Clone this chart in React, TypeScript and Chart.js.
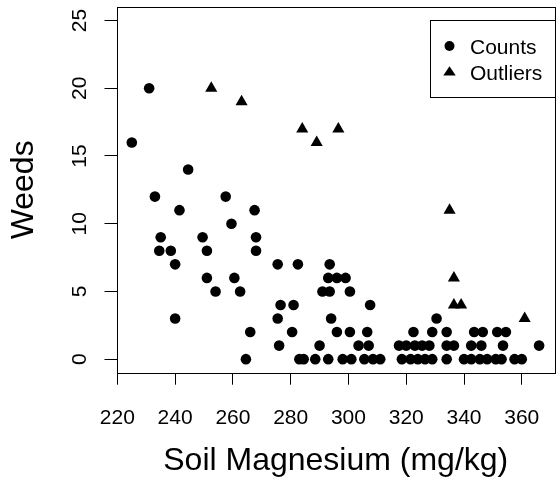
import React, { useEffect, useRef } from "react";
import { Chart, registerables } from "chart.js";

Chart.register(...registerables);

// Soil magnesium (mg/kg) and weed count for each regular plot
const countMg = [
  231,
  225,
  244.5,
  233, 257.5,
  241.5, 267.5,
  259.5,
  235, 249.5, 268,
  234.5, 238.5, 251, 268,
  240, 275.5, 282.5, 293.5,
  251, 260.5, 293, 296, 299,
  254, 262.5, 291, 293.5, 300.5,
  276.5, 281, 307.5,
  240, 275.5, 294, 330.5,
  266, 280.5, 296, 300.5, 306.5, 322.5, 329, 334, 343.5, 346.5, 351.5, 354.5,
  276, 290, 303.5, 307, 317.5, 320, 323, 325.5, 328, 334, 336.5, 342.5, 346, 353.5, 366,
  264.5, 283, 284.5, 288.5, 293, 298, 301, 305.5, 308.5, 311, 318.5, 321.5, 324, 326.5, 329, 334,
  340, 342.5, 345.5, 348, 351, 353, 357.5, 360,
];
const countWeeds = [
  20,
  16,
  14,
  12, 12,
  11, 11,
  10,
  9, 9, 9,
  8, 8, 8, 8,
  7, 7, 7, 7,
  6, 6, 6, 6, 6,
  5, 5, 5, 5, 5,
  4, 4, 4,
  3, 3, 3, 3,
  2, 2, 2, 2, 2, 2, 2, 2, 2, 2, 2, 2,
  1, 1, 1, 1, 1, 1, 1, 1, 1, 1, 1, 1, 1, 1, 1,
  0, 0, 0, 0, 0, 0, 0, 0, 0, 0, 0, 0, 0, 0, 0, 0,
  0, 0, 0, 0, 0, 0, 0, 0,
];

// Plots flagged as outliers
const outlierMg = [252.5, 263, 284, 289, 296.5, 335, 336.5, 336.5, 339, 361];
const outlierWeeds = [20, 19, 17, 16, 17, 11, 6, 4, 4, 3];

const xTicks = [220, 240, 260, 280, 300, 320, 340, 360];
const yTicks = [0, 5, 10, 15, 20, 25];
const xTitle = "Soil Magnesium (mg/kg)";
const yTitle = "Weeds";
const legendLabels = ["Counts", "Outliers"];

const FONT = '"Liberation Sans", Arial, Helvetica, sans-serif';

const toPoints = (xs: number[], ys: number[]) => xs.map((x, i) => ({ x, y: ys[i] }));

const framePlugin = {
  id: "baseFrame",
  afterDraw(chart: any) {
    const ctx = chart.ctx as CanvasRenderingContext2D;
    const area = chart.chartArea;
    const xs = chart.scales.x;
    const ys = chart.scales.y;
    ctx.save();

    // plot box
    ctx.strokeStyle = "#000";
    ctx.lineWidth = 1;
    const l = Math.round(area.left) + 0.5;
    const t = Math.round(area.top) + 0.5;
    const r = Math.round(area.right) + 0.5;
    const b = Math.round(area.bottom) + 0.5;
    ctx.strokeRect(l, t, r - l, b - t);

    ctx.fillStyle = "#000";

    // x tick labels
    ctx.font = `21px ${FONT}`;
    ctx.textAlign = "center";
    ctx.textBaseline = "alphabetic";
    xs.ticks.forEach((tk: any) => {
      ctx.fillText(String(tk.value), xs.getPixelForValue(tk.value), 424);
    });

    // y tick labels, rotated
    ys.ticks.forEach((tk: any) => {
      ctx.save();
      ctx.translate(85.5, ys.getPixelForValue(tk.value));
      ctx.rotate(-Math.PI / 2);
      ctx.fillText(String(tk.value), 0, 0);
      ctx.restore();
    });

    // axis titles
    ctx.font = `32px ${FONT}`;
    ctx.fillText(xTitle, (area.left + area.right) / 2, 470);
    ctx.save();
    ctx.translate(33, (area.top + area.bottom) / 2);
    ctx.rotate(-Math.PI / 2);
    ctx.fillText(yTitle, 0, 0);
    ctx.restore();

    // legend
    ctx.fillStyle = "#fff";
    ctx.fillRect(430.5, 20.5, 125, 77);
    ctx.strokeRect(430.5, 20.5, 125, 77);
    ctx.fillStyle = "#000";
    ctx.beginPath();
    ctx.arc(449.5, 46, 5, 0, Math.PI * 2);
    ctx.fill();
    ctx.beginPath();
    ctx.moveTo(449.5, 66.3);
    ctx.lineTo(455.7, 75.5);
    ctx.lineTo(443.3, 75.5);
    ctx.closePath();
    ctx.fill();
    ctx.font = `21px ${FONT}`;
    ctx.textAlign = "left";
    ctx.fillText(legendLabels[0], 470, 54);
    ctx.fillText(legendLabels[1], 470, 79.5);

    ctx.restore();
  },
};

export default function App() {
  const ref = useRef<HTMLCanvasElement | null>(null);

  useEffect(() => {
    if (!ref.current) return;
    const chart = new Chart(ref.current, {
      type: "scatter",
      data: {
        datasets: [
          {
            label: legendLabels[0],
            data: toPoints(countMg, countWeeds),
            pointStyle: "circle",
            pointRadius: 5.3,
            pointBorderWidth: 0,
            backgroundColor: "#000",
            borderColor: "#000",
          },
          {
            label: legendLabels[1],
            data: toPoints(outlierMg, outlierWeeds),
            pointStyle: "triangle",
            pointRadius: 7,
            pointBorderWidth: 0,
            backgroundColor: "#000",
            borderColor: "#000",
          },
        ],
      },
      options: {
        animation: false,
        responsive: false,
        devicePixelRatio: 1,
        layout: { padding: { left: 0, top: 6, right: 1.6, bottom: 0 } },
        plugins: {
          legend: { display: false },
          tooltip: { enabled: false },
        },
        scales: {
          x: {
            type: "linear",
            min: 219.7,
            max: 371.5,
            afterBuildTicks: (s: any) => {
              s.ticks = xTicks.map((v) => ({ value: v }));
            },
            afterFit: (s: any) => {
              s.height = 105.3;
            },
            ticks: { display: false },
            grid: {
              drawOnChartArea: false,
              drawTicks: true,
              tickLength: 12,
              color: "#000",
              lineWidth: 1,
            },
            border: { display: false },
          },
          y: {
            type: "linear",
            min: -1,
            max: 26,
            afterBuildTicks: (s: any) => {
              s.ticks = yTicks.map((v) => ({ value: v }));
            },
            afterFit: (s: any) => {
              s.width = 116.5;
            },
            ticks: { display: false },
            grid: {
              drawOnChartArea: false,
              drawTicks: true,
              tickLength: 12,
              color: "#000",
              lineWidth: 1,
            },
            border: { display: false },
          },
        },
      },
      plugins: [framePlugin],
    });
    return () => chart.destroy();
  }, []);

  return (
    <div
      style={{
        position: "fixed",
        left: 0,
        top: 0,
        width: 557,
        height: 478,
        overflow: "hidden",
        background: "#fff",
      }}
    >
      <canvas ref={ref} width={562} height={478} style={{ display: "block", width: 562, height: 478 }} />
    </div>
  );
}
